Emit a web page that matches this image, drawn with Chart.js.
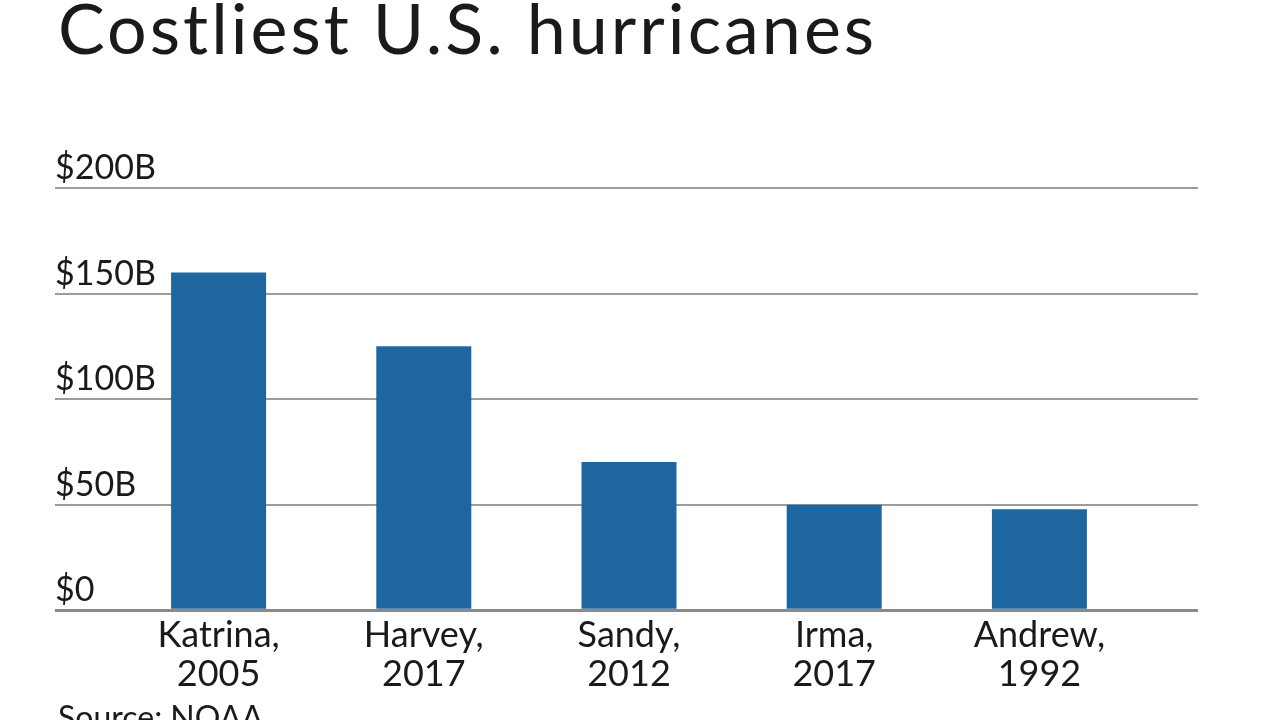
<!DOCTYPE html>
<html lang="en">
<head>
    <meta charset="UTF-8">
    <title>Costliest U.S. hurricanes</title>
    <script src="https://cdn.jsdelivr.net/npm/chart.js@4"></script>
    <style>
        body {
            margin: 0;
            background-color: #fff;
            font-family: 'Lato', sans-serif;
            color: #1a1a1a;
            overflow: hidden;
        }

        .wrap {
            position: relative;
            width: 1280px;
            height: 720px;
        }

        .title {
            position: absolute;
            left: 58px;
            top: -8px;
            font-size: 70px;
            letter-spacing: 3px;
            line-height: 1;
            white-space: nowrap;
        }

        .source {
            position: absolute;
            left: 58px;
            top: 701px;
            font-size: 32px;
            line-height: 1;
            white-space: nowrap;
        }

        canvas {
            position: absolute;
            left: 0;
            top: 0;
        }
    </style>
</head>
<body>
    <div class="wrap">
        <canvas id="myChart" width="1280" height="720"></canvas>
        <div class="title">Costliest U.S. hurricanes</div>
        <div class="source">Source: NOAA</div>
    </div>
    <script>
        // hurricane names and years (two-line labels)
        const hurricanes = ['Katrina,', 'Harvey,', 'Sandy,', 'Irma,', 'Andrew,'];
        const years = ['2005', '2017', '2012', '2017', '1992'];
        // cost in billions of dollars
        const costs = [160, 125, 70.2, 50, 47.8];
        // y axis ticks
        const tickValues = [0, 50, 100, 150, 200];
        const tickLabels = ['$0', '$50B', '$100B', '$150B', '$200B'];

        const labels = hurricanes.map((name, i) => [name, years[i]]);
        const gridColor = '#9c9c9c';
        const baseColor = '#8a8a8a';

        const ctx = document.getElementById('myChart').getContext('2d');

        const chart = new Chart(ctx, {
            type: 'bar',
            data: {
                labels: labels,
                datasets: [{
                    label: 'Cost',
                    data: costs,
                    backgroundColor: '#1d66a0',
                    borderWidth: 0,
                    barPercentage: 0.463,
                    categoryPercentage: 1
                }]
            },
            options: {
                responsive: false,
                animation: false,
                layout: {
                    padding: { left: 55, right: 82, top: 188, bottom: 20 }
                },
                plugins: {
                    legend: { display: false },
                    tooltip: { enabled: false }
                },
                scales: {
                    x: {
                        grid: { display: false, drawTicks: false },
                        border: { display: false },
                        ticks: {
                            padding: 6,
                            color: '#1a1a1a',
                            font: { family: 'Lato', size: 36, lineHeight: 1.08 }
                        }
                    },
                    y: {
                        position: 'left',
                        min: 0,
                        max: 200,
                        afterBuildTicks: (scale) => {
                            scale.ticks = tickValues.map(v => ({ value: v }));
                        },
                        afterFit: (scale) => {
                            scale.width = 61;
                        },
                        border: { display: false },
                        grid: {
                            color: (c) => c.tick && c.tick.value === 0 ? baseColor : gridColor,
                            lineWidth: (c) => c.tick && c.tick.value === 0 ? 3 : 2,
                            tickColor: (c) => c.tick && c.tick.value === 0 ? baseColor : gridColor,
                            tickWidth: (c) => c.tick && c.tick.value === 0 ? 3 : 2,
                            tickLength: 61
                        },
                        ticks: {
                            mirror: true,
                            crossAlign: 'near',
                            padding: -61,
                            labelOffset: -20,
                            color: '#1a1a1a',
                            font: { family: 'Lato', size: 34 },
                            callback: (value) => tickLabels[tickValues.indexOf(value)]
                        }
                    },
                    y2: {
                        position: 'right',
                        min: 0,
                        max: 200,
                        afterBuildTicks: (scale) => {
                            scale.ticks = tickValues.map(v => ({ value: v }));
                        },
                        afterFit: (scale) => {
                            scale.width = 56;
                        },
                        border: { display: false },
                        grid: {
                            drawOnChartArea: false,
                            color: (c) => c.tick && c.tick.value === 0 ? baseColor : gridColor,
                            lineWidth: (c) => c.tick && c.tick.value === 0 ? 3 : 2,
                            tickColor: (c) => c.tick && c.tick.value === 0 ? baseColor : gridColor,
                            tickWidth: (c) => c.tick && c.tick.value === 0 ? 3 : 2,
                            tickLength: 56
                        },
                        ticks: {
                            display: true,
                            padding: 0,
                            callback: () => ''
                        }
                    }
                }
            }
        });
    </script>
</body>
</html>
